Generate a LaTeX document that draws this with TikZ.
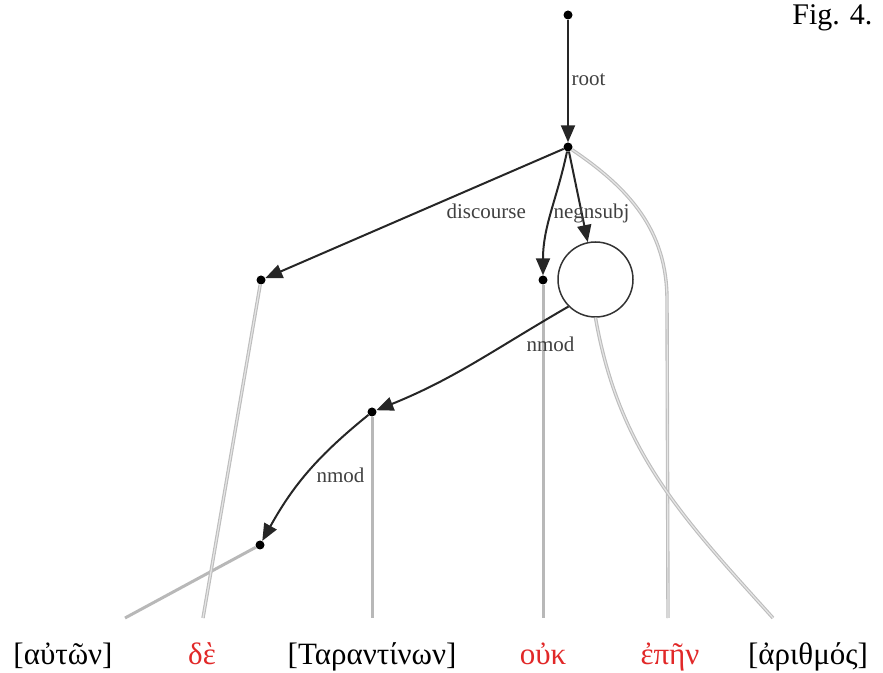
\documentclass[tikz,border=0pt]{standalone}
\usepackage{fontspec}
\setmainfont{Liberation Serif}
\usetikzlibrary{arrows.meta}
\definecolor{wred}{RGB}{225,40,40}
\begin{document}
\begin{tikzpicture}[x=1pt,y=1pt,
  dot/.style={circle,fill=black,inner sep=0pt,minimum size=9pt},
  dep/.style={draw=black!85,line width=2pt,-{Triangle[length=17pt,width=14pt]}},
  lab/.style={font=\fontsize{21}{23}\selectfont,text=black!75},
  word/.style={font=\fontsize{31}{34}\selectfont,anchor=base},
  redword/.style={word,text=wred},
  proj/.style={draw=black!28,line width=3pt},
  projd/.style={draw=black!26,line width=1.1pt,double=black!10,double distance=1.2pt}]
\useasboundingbox (0,0) rectangle (883,672);

% dots and circle
\node[dot] (top) at (568,657) {};
\node[dot] (root) at (568,525) {};
\node[dot] (disc) at (261,392) {};
\node[dot] (neg) at (543,392) {};
\node[circle,draw=black!80,line width=1.5pt,minimum size=75pt,inner sep=0pt] (circ) at (595.5,392.5) {};
\node[dot] (nm1) at (372,260) {};
\node[dot] (nm2) at (260,127) {};

% words
\node[word] (w1) at (63,8) {[αὐτῶν]};
\node[redword] (w2) at (202,8) {δὲ};
\node[word] (w3) at (372,8) {[Ταραντίνων]};
\node[redword] (w4) at (543,8) {οὐκ};
\node[redword] (w5) at (670,8) {ἐπῆν};
\node[word] (w6) at (808,8) {[ἀριθμός]};
\node[font=\fontsize{30}{32}\selectfont,anchor=base east] (fig) at (876,647) {Fig. 4.};

% line ends
\coordinate (e1) at (125,54);
\coordinate (e2) at (203,54);
\coordinate (e3) at (372,54);
\coordinate (e4) at (543,54);
\coordinate (e5) at (668,54);
\coordinate (e6) at (773,54);
\coordinate (bend5) at (667,372);

% projection lines
\draw[proj] (nm2) -- (e1);
\draw[projd] (disc) -- (e2);
\draw[proj] (nm1) -- (e3);
\draw[proj] (neg) -- (e4);
\draw[projd] (root) to[out=-34,in=90] (bend5) -- (e5);
\draw[projd] (circ.south) to[out=-80,in=132] (e6);

% dependency arrows
\draw[dep] (top) -- (root);
\draw[dep] (root) -- (disc);
\draw[dep] (root) to[out=258,in=90] (neg);
\draw[dep] (root) -- (circ);
\draw[dep] (circ.225) to[out=210,in=22] (nm1);
\draw[dep] (nm1) to[out=219,in=61] (nm2);

% labels
\node[lab,anchor=base west] at (568,586) {root};
\node[lab,anchor=base west] at (443,453) {discourse};
\node[lab,anchor=base west] at (550,453) {neg};
\node[lab,anchor=base east] at (633,453) {nsubj};
\node[lab,anchor=base west] at (523,320) {nmod};
\node[lab,anchor=base west] at (313,189) {nmod};
\end{tikzpicture}
\end{document}
